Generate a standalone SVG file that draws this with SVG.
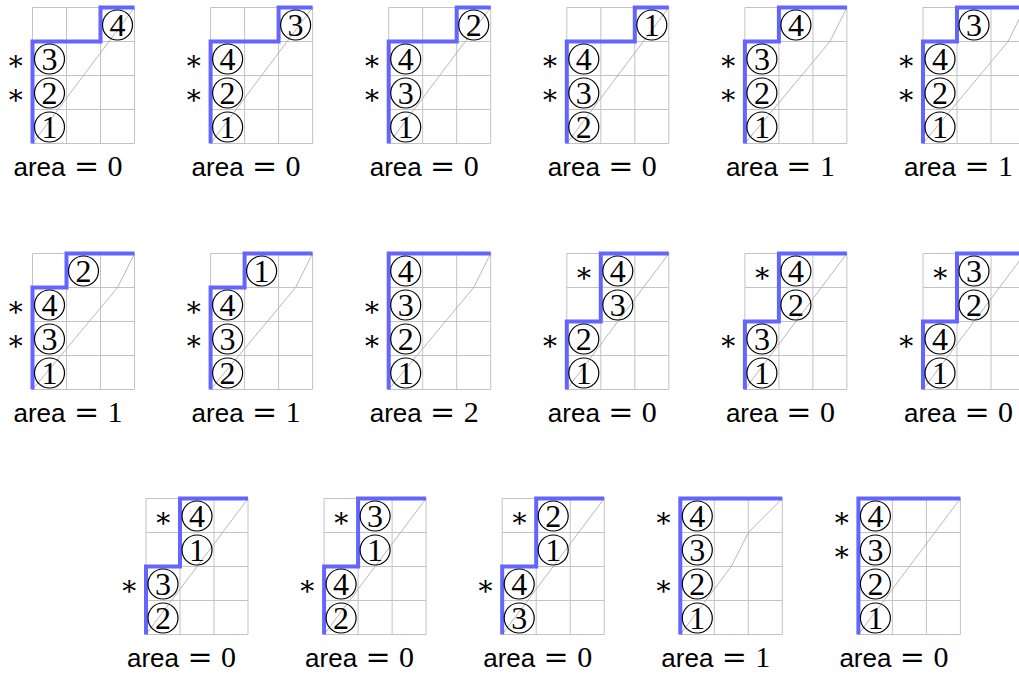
<svg xmlns="http://www.w3.org/2000/svg" xmlns:xlink="http://www.w3.org/1999/xlink" width="1019" height="675" viewBox="0 0 1019 675">
<style>
.grid{fill:none;stroke:#c3c3c3;stroke-width:1}
.diag{fill:none;stroke:#b0b0b0;stroke-width:0.9}
.path{fill:none;stroke:#6464ff;stroke-width:4;stroke-linecap:butt;stroke-linejoin:miter}
.circ{fill:none;stroke:#000;stroke-width:1.2}
.dig{font-family:"Liberation Serif",serif;font-size:32px;text-anchor:middle;fill:#000}
.star{font-family:"DejaVu Serif",serif;font-size:28px;text-anchor:middle;fill:#000}
.area{font-family:"Liberation Sans",sans-serif;font-size:26px;fill:#000}
.eq{font-family:"DejaVu Serif",serif;font-size:30px;text-anchor:middle;fill:#000}
.num{font-family:"Liberation Serif",serif;font-size:30px;text-anchor:middle;fill:#000}
</style>
<defs>
<path id="grid" class="grid" d="M0,0H102M0,34H102M0,68H102M0,102H102M0,136H102M0,0V136M34,0V136M68,0V136M102,0V136"/>
<path id="dS" class="diag" d="M0,136L102,0"/>
<path id="dB" class="diag" d="M0,136L85,34L102,0"/>
<path id="dC" class="diag" d="M0,136L51,68L68,34L102,0"/>
<circle id="c" class="circ" r="15"/>
</defs>

<!-- Row 1 -->
<g id="p1" transform="translate(32.5,7.5)">
<use xlink:href="#grid"/><use xlink:href="#dS"/>
<path class="path" d="M0,136V34H68V0H102"/>
<use xlink:href="#c" x="17" y="119.5"/><text class="dig" x="17" y="130.5">1</text>
<use xlink:href="#c" x="17" y="85.5"/><text class="dig" x="17" y="96.5">2</text>
<use xlink:href="#c" x="17" y="51.5"/><text class="dig" x="17" y="62.5">3</text>
<use xlink:href="#c" x="85" y="17.5"/><text class="dig" x="85" y="28.5">4</text>
<text class="star" x="-17" y="96">∗</text><text class="star" x="-17" y="62">∗</text>
<text class="area" x="-19" y="168.5">area</text><text class="eq" x="54" y="168.5">=</text><text class="num" x="82.5" y="168.5">0</text>
</g>
<g id="p2" transform="translate(210.6,7.5)">
<use xlink:href="#grid"/><use xlink:href="#dS"/>
<path class="path" d="M0,136V34H68V0H102"/>
<use xlink:href="#c" x="17" y="119.5"/><text class="dig" x="17" y="130.5">1</text>
<use xlink:href="#c" x="17" y="85.5"/><text class="dig" x="17" y="96.5">2</text>
<use xlink:href="#c" x="17" y="51.5"/><text class="dig" x="17" y="62.5">4</text>
<use xlink:href="#c" x="85" y="17.5"/><text class="dig" x="85" y="28.5">3</text>
<text class="star" x="-17" y="96">∗</text><text class="star" x="-17" y="62">∗</text>
<text class="area" x="-19" y="168.5">area</text><text class="eq" x="54" y="168.5">=</text><text class="num" x="82.5" y="168.5">0</text>
</g>
<g id="p3" transform="translate(388.7,7.5)">
<use xlink:href="#grid"/><use xlink:href="#dS"/>
<path class="path" d="M0,136V34H68V0H102"/>
<use xlink:href="#c" x="17" y="119.5"/><text class="dig" x="17" y="130.5">1</text>
<use xlink:href="#c" x="17" y="85.5"/><text class="dig" x="17" y="96.5">3</text>
<use xlink:href="#c" x="17" y="51.5"/><text class="dig" x="17" y="62.5">4</text>
<use xlink:href="#c" x="85" y="17.5"/><text class="dig" x="85" y="28.5">2</text>
<text class="star" x="-17" y="96">∗</text><text class="star" x="-17" y="62">∗</text>
<text class="area" x="-19" y="168.5">area</text><text class="eq" x="54" y="168.5">=</text><text class="num" x="82.5" y="168.5">0</text>
</g>
<g id="p4" transform="translate(566.8,7.5)">
<use xlink:href="#grid"/><use xlink:href="#dS"/>
<path class="path" d="M0,136V34H68V0H102"/>
<use xlink:href="#c" x="17" y="119.5"/><text class="dig" x="17" y="130.5">2</text>
<use xlink:href="#c" x="17" y="85.5"/><text class="dig" x="17" y="96.5">3</text>
<use xlink:href="#c" x="17" y="51.5"/><text class="dig" x="17" y="62.5">4</text>
<use xlink:href="#c" x="85" y="17.5"/><text class="dig" x="85" y="28.5">1</text>
<text class="star" x="-17" y="96">∗</text><text class="star" x="-17" y="62">∗</text>
<text class="area" x="-19" y="168.5">area</text><text class="eq" x="54" y="168.5">=</text><text class="num" x="82.5" y="168.5">0</text>
</g>
<g id="p5" transform="translate(744.9,7.5)">
<use xlink:href="#grid"/><use xlink:href="#dB"/>
<path class="path" d="M0,136V34H34V0H102"/>
<use xlink:href="#c" x="17" y="119.5"/><text class="dig" x="17" y="130.5">1</text>
<use xlink:href="#c" x="17" y="85.5"/><text class="dig" x="17" y="96.5">2</text>
<use xlink:href="#c" x="17" y="51.5"/><text class="dig" x="17" y="62.5">3</text>
<use xlink:href="#c" x="51" y="17.5"/><text class="dig" x="51" y="28.5">4</text>
<text class="star" x="-17" y="96">∗</text><text class="star" x="-17" y="62">∗</text>
<text class="area" x="-19" y="168.5">area</text><text class="eq" x="54" y="168.5">=</text><text class="num" x="82.5" y="168.5">1</text>
</g>
<g id="p6" transform="translate(923,7.5)">
<use xlink:href="#grid"/><use xlink:href="#dB"/>
<path class="path" d="M0,136V34H34V0H102"/>
<use xlink:href="#c" x="17" y="119.5"/><text class="dig" x="17" y="130.5">1</text>
<use xlink:href="#c" x="17" y="85.5"/><text class="dig" x="17" y="96.5">2</text>
<use xlink:href="#c" x="17" y="51.5"/><text class="dig" x="17" y="62.5">4</text>
<use xlink:href="#c" x="51" y="17.5"/><text class="dig" x="51" y="28.5">3</text>
<text class="star" x="-17" y="96">∗</text><text class="star" x="-17" y="62">∗</text>
<text class="area" x="-19" y="168.5">area</text><text class="eq" x="54" y="168.5">=</text><text class="num" x="82.5" y="168.5">1</text>
</g>

<!-- Row 2 -->
<g id="p7" transform="translate(32.5,253.5)">
<use xlink:href="#grid"/><use xlink:href="#dB"/>
<path class="path" d="M0,136V34H34V0H102"/>
<use xlink:href="#c" x="17" y="119.5"/><text class="dig" x="17" y="130.5">1</text>
<use xlink:href="#c" x="17" y="85.5"/><text class="dig" x="17" y="96.5">3</text>
<use xlink:href="#c" x="17" y="51.5"/><text class="dig" x="17" y="62.5">4</text>
<use xlink:href="#c" x="51" y="17.5"/><text class="dig" x="51" y="28.5">2</text>
<text class="star" x="-17" y="96">∗</text><text class="star" x="-17" y="62">∗</text>
<text class="area" x="-19" y="168.5">area</text><text class="eq" x="54" y="168.5">=</text><text class="num" x="82.5" y="168.5">1</text>
</g>
<g id="p8" transform="translate(210.6,253.5)">
<use xlink:href="#grid"/><use xlink:href="#dB"/>
<path class="path" d="M0,136V34H34V0H102"/>
<use xlink:href="#c" x="17" y="119.5"/><text class="dig" x="17" y="130.5">2</text>
<use xlink:href="#c" x="17" y="85.5"/><text class="dig" x="17" y="96.5">3</text>
<use xlink:href="#c" x="17" y="51.5"/><text class="dig" x="17" y="62.5">4</text>
<use xlink:href="#c" x="51" y="17.5"/><text class="dig" x="51" y="28.5">1</text>
<text class="star" x="-17" y="96">∗</text><text class="star" x="-17" y="62">∗</text>
<text class="area" x="-19" y="168.5">area</text><text class="eq" x="54" y="168.5">=</text><text class="num" x="82.5" y="168.5">1</text>
</g>
<g id="p9" transform="translate(388.7,253.5)">
<use xlink:href="#grid"/><use xlink:href="#dB"/>
<path class="path" d="M0,136V0H102"/>
<use xlink:href="#c" x="17" y="119.5"/><text class="dig" x="17" y="130.5">1</text>
<use xlink:href="#c" x="17" y="85.5"/><text class="dig" x="17" y="96.5">2</text>
<use xlink:href="#c" x="17" y="51.5"/><text class="dig" x="17" y="62.5">3</text>
<use xlink:href="#c" x="17" y="17.5"/><text class="dig" x="17" y="28.5">4</text>
<text class="star" x="-17" y="96">∗</text><text class="star" x="-17" y="62">∗</text>
<text class="area" x="-19" y="168.5">area</text><text class="eq" x="54" y="168.5">=</text><text class="num" x="82.5" y="168.5">2</text>
</g>
<g id="p10" transform="translate(566.8,253.5)">
<use xlink:href="#grid"/><use xlink:href="#dS"/>
<path class="path" d="M0,136V68H34V0H102"/>
<use xlink:href="#c" x="17" y="119.5"/><text class="dig" x="17" y="130.5">1</text>
<use xlink:href="#c" x="17" y="85.5"/><text class="dig" x="17" y="96.5">2</text>
<use xlink:href="#c" x="51" y="51.5"/><text class="dig" x="51" y="62.5">3</text>
<use xlink:href="#c" x="51" y="17.5"/><text class="dig" x="51" y="28.5">4</text>
<text class="star" x="-17" y="96">∗</text><text class="star" x="17" y="28">∗</text>
<text class="area" x="-19" y="168.5">area</text><text class="eq" x="54" y="168.5">=</text><text class="num" x="82.5" y="168.5">0</text>
</g>
<g id="p11" transform="translate(744.9,253.5)">
<use xlink:href="#grid"/><use xlink:href="#dS"/>
<path class="path" d="M0,136V68H34V0H102"/>
<use xlink:href="#c" x="17" y="119.5"/><text class="dig" x="17" y="130.5">1</text>
<use xlink:href="#c" x="17" y="85.5"/><text class="dig" x="17" y="96.5">3</text>
<use xlink:href="#c" x="51" y="51.5"/><text class="dig" x="51" y="62.5">2</text>
<use xlink:href="#c" x="51" y="17.5"/><text class="dig" x="51" y="28.5">4</text>
<text class="star" x="-17" y="96">∗</text><text class="star" x="17" y="28">∗</text>
<text class="area" x="-19" y="168.5">area</text><text class="eq" x="54" y="168.5">=</text><text class="num" x="82.5" y="168.5">0</text>
</g>
<g id="p12" transform="translate(923,253.5)">
<use xlink:href="#grid"/><use xlink:href="#dS"/>
<path class="path" d="M0,136V68H34V0H102"/>
<use xlink:href="#c" x="17" y="119.5"/><text class="dig" x="17" y="130.5">1</text>
<use xlink:href="#c" x="17" y="85.5"/><text class="dig" x="17" y="96.5">4</text>
<use xlink:href="#c" x="51" y="51.5"/><text class="dig" x="51" y="62.5">2</text>
<use xlink:href="#c" x="51" y="17.5"/><text class="dig" x="51" y="28.5">3</text>
<text class="star" x="-17" y="96">∗</text><text class="star" x="17" y="28">∗</text>
<text class="area" x="-19" y="168.5">area</text><text class="eq" x="54" y="168.5">=</text><text class="num" x="82.5" y="168.5">0</text>
</g>

<!-- Row 3 -->
<g id="p13" transform="translate(146,498.5)">
<use xlink:href="#grid"/><use xlink:href="#dS"/>
<path class="path" d="M0,136V68H34V0H102"/>
<use xlink:href="#c" x="17" y="119.5"/><text class="dig" x="17" y="130.5">2</text>
<use xlink:href="#c" x="17" y="85.5"/><text class="dig" x="17" y="96.5">3</text>
<use xlink:href="#c" x="51" y="51.5"/><text class="dig" x="51" y="62.5">1</text>
<use xlink:href="#c" x="51" y="17.5"/><text class="dig" x="51" y="28.5">4</text>
<text class="star" x="-17" y="96">∗</text><text class="star" x="17" y="28">∗</text>
<text class="area" x="-19" y="168.5">area</text><text class="eq" x="54" y="168.5">=</text><text class="num" x="82.5" y="168.5">0</text>
</g>
<g id="p14" transform="translate(324.1,498.5)">
<use xlink:href="#grid"/><use xlink:href="#dS"/>
<path class="path" d="M0,136V68H34V0H102"/>
<use xlink:href="#c" x="17" y="119.5"/><text class="dig" x="17" y="130.5">2</text>
<use xlink:href="#c" x="17" y="85.5"/><text class="dig" x="17" y="96.5">4</text>
<use xlink:href="#c" x="51" y="51.5"/><text class="dig" x="51" y="62.5">1</text>
<use xlink:href="#c" x="51" y="17.5"/><text class="dig" x="51" y="28.5">3</text>
<text class="star" x="-17" y="96">∗</text><text class="star" x="17" y="28">∗</text>
<text class="area" x="-19" y="168.5">area</text><text class="eq" x="54" y="168.5">=</text><text class="num" x="82.5" y="168.5">0</text>
</g>
<g id="p15" transform="translate(502.2,498.5)">
<use xlink:href="#grid"/><use xlink:href="#dS"/>
<path class="path" d="M0,136V68H34V0H102"/>
<use xlink:href="#c" x="17" y="119.5"/><text class="dig" x="17" y="130.5">3</text>
<use xlink:href="#c" x="17" y="85.5"/><text class="dig" x="17" y="96.5">4</text>
<use xlink:href="#c" x="51" y="51.5"/><text class="dig" x="51" y="62.5">1</text>
<use xlink:href="#c" x="51" y="17.5"/><text class="dig" x="51" y="28.5">2</text>
<text class="star" x="-17" y="96">∗</text><text class="star" x="17" y="28">∗</text>
<text class="area" x="-19" y="168.5">area</text><text class="eq" x="54" y="168.5">=</text><text class="num" x="82.5" y="168.5">0</text>
</g>
<g id="p16" transform="translate(680.3,498.5)">
<use xlink:href="#grid"/><use xlink:href="#dC"/>
<path class="path" d="M0,136V0H102"/>
<use xlink:href="#c" x="17" y="119.5"/><text class="dig" x="17" y="130.5">1</text>
<use xlink:href="#c" x="17" y="85.5"/><text class="dig" x="17" y="96.5">2</text>
<use xlink:href="#c" x="17" y="51.5"/><text class="dig" x="17" y="62.5">3</text>
<use xlink:href="#c" x="17" y="17.5"/><text class="dig" x="17" y="28.5">4</text>
<text class="star" x="-17" y="96">∗</text><text class="star" x="-17" y="28">∗</text>
<text class="area" x="-19" y="168.5">area</text><text class="eq" x="54" y="168.5">=</text><text class="num" x="82.5" y="168.5">1</text>
</g>
<g id="p17" transform="translate(858.4,498.5)">
<use xlink:href="#grid"/><use xlink:href="#dS"/>
<path class="path" d="M0,136V0H102"/>
<use xlink:href="#c" x="17" y="119.5"/><text class="dig" x="17" y="130.5">1</text>
<use xlink:href="#c" x="17" y="85.5"/><text class="dig" x="17" y="96.5">2</text>
<use xlink:href="#c" x="17" y="51.5"/><text class="dig" x="17" y="62.5">3</text>
<use xlink:href="#c" x="17" y="17.5"/><text class="dig" x="17" y="28.5">4</text>
<text class="star" x="-17" y="62">∗</text><text class="star" x="-17" y="28">∗</text>
<text class="area" x="-19" y="168.5">area</text><text class="eq" x="54" y="168.5">=</text><text class="num" x="82.5" y="168.5">0</text>
</g>
</svg>
